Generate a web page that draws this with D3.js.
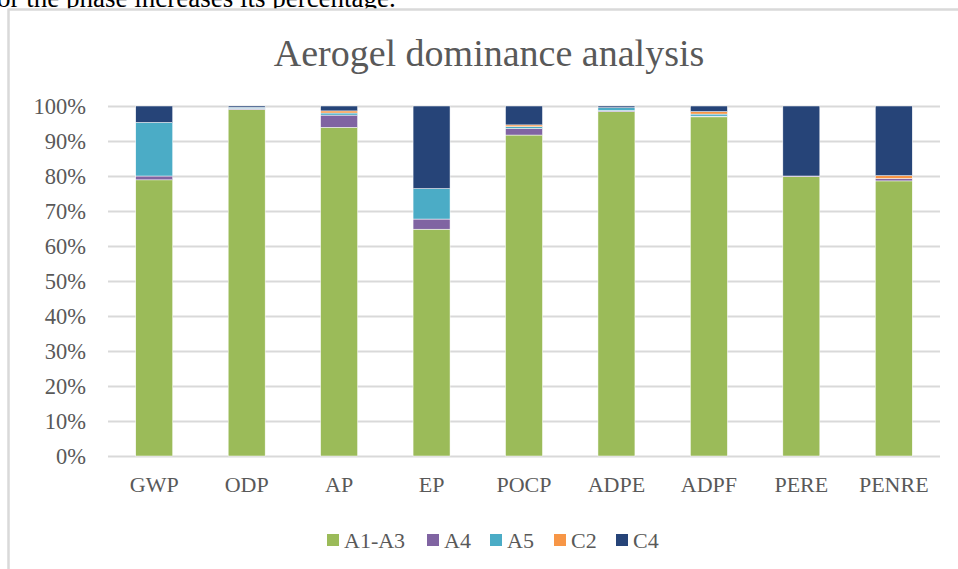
<!DOCTYPE html>
<html>
<head>
<meta charset="utf-8">
<script src="https://cdn.jsdelivr.net/npm/d3@7"></script>
<style>
	body { margin: 0; background: #fff; overflow: hidden; }
	svg { display: block; }
</style>
</head>
<body>
<svg width="958" height="569"></svg>
<script>
var svg = d3.select('svg');

var width = +svg.attr('width');
var height = +svg.attr('height');

// données (%)
const categories = ["GWP", "ODP", "AP", "EP", "POCP", "ADPE", "ADPF", "PERE", "PENRE"];
const seriesNames = ["A1-A3", "A4", "A5", "C2", "C4"];
const a1a3 = [78.9, 99.0, 93.9, 64.8, 91.7, 98.4, 96.9, 79.8, 78.6];
const a4 = [1.1, 0.3, 3.5, 2.9, 1.9, 0.3, 0.2, 0.2, 0.7];
const a5 = [15.3, 0.3, 0.6, 8.7, 0.5, 0.8, 0.6, 0.0, 0.0];
const c2 = [0.0, 0.0, 0.6, 0.0, 0.5, 0.0, 0.7, 0.0, 0.8];
const c4 = [4.7, 0.4, 1.4, 23.6, 5.4, 0.5, 1.6, 20.0, 19.9];
const yTicks = [0, 0.1, 0.2, 0.3, 0.4, 0.5, 0.6, 0.7, 0.8, 0.9, 1];

const colors = ["#9BBB59", "#8064A2", "#4BACC6", "#F79646", "#264478"];
const textColor = "#595959";
const gridColor = "#D9D9D9";
const font = "'Liberation Serif', 'DejaVu Serif', serif";

const rows = categories.map((c, i) => ({
	cat: c,
	"A1-A3": a1a3[i],
	"A4": a4[i],
	"A5": a5[i],
	"C2": c2[i],
	"C4": c4[i]
}));

// texte du document coupé au-dessus du graphique
svg.append("text")
	.attr("x", -3)
	.attr("y", 7)
	.attr("fill", "#000")
	.style("font-family", font)
	.style("font-size", "27px")
	.text("or the phase increases its percentage.");

// cadre du graphique (fond blanc + bords gauche et haut)
svg.append("rect")
	.attr("x", 9)
	.attr("y", 10)
	.attr("width", width - 9)
	.attr("height", height - 10)
	.attr("fill", "#fff");
svg.append("line")
	.attr("x1", 8.5).attr("x2", 8.5)
	.attr("y1", 8.5).attr("y2", height)
	.attr("stroke", gridColor)
	.attr("stroke-width", 2.5);
svg.append("line")
	.attr("x1", 8.5).attr("x2", width)
	.attr("y1", 9.5).attr("y2", 9.5)
	.attr("stroke", gridColor)
	.attr("stroke-width", 2.5);

// titre
svg.append("text")
	.attr("x", 489)
	.attr("y", 66)
	.attr("text-anchor", "middle")
	.attr("fill", textColor)
	.style("font-family", font)
	.style("font-size", "38px")
	.text("Aerogel dominance analysis");

const margin = {top: 106, left: 108, right: 18, bottom: 113};
const innerWidth = width - margin.left - margin.right;
const innerHeight = height - margin.top - margin.bottom;

const xScale = d3.scaleBand()
	.domain(categories)
	.range([0, innerWidth])
	.paddingInner(0.6)
	.paddingOuter(0.3);

const yScale = d3.scaleLinear()
	.domain([0, 1])
	.range([innerHeight, 0]);

const g = svg.append('g')
	.attr('transform', `translate(${margin.left}, ${margin.top})`);

// lignes de grille
g.append('g')
	.call(d3.axisLeft(yScale).tickValues(yTicks).tickSize(-innerWidth).tickFormat(d3.format(".0%")))
	.call(ax => ax.select('.domain').remove())
	.call(ax => ax.selectAll('line').attr('stroke', gridColor).attr('stroke-width', 2))
	.call(ax => ax.selectAll('text')
		.attr('x', -22)
		.attr('fill', textColor)
		.style('font-family', font)
		.style('font-size', '22.5px'));

// axe des x
g.append('g')
	.attr('transform', `translate(0,${innerHeight})`)
	.call(d3.axisBottom(xScale).tickSize(0))
	.call(ax => ax.select('.domain').remove())
	.call(ax => ax.selectAll('text')
		.attr('y', 20)
		.attr('fill', textColor)
		.style('font-family', font)
		.style('font-size', '22px'));

// barres empilées
const stacked = d3.stack()
	.keys(seriesNames)
	.offset(d3.stackOffsetExpand)(rows);

g.selectAll('g.serie').data(stacked)
	.enter().append('g')
	.attr('class', 'serie')
	.attr('fill', (d, i) => colors[i])
	.selectAll('rect').data(d => d)
	.enter().append('rect')
	.attr('x', d => xScale(d.data.cat))
	.attr('y', d => yScale(d[1]))
	.attr('height', d => yScale(d[0]) - yScale(d[1]))
	.attr('width', xScale.bandwidth())
	.attr('stroke', '#fff')
	.attr('stroke-width', 0.5);

// légende
const legendX = [327, 427, 490, 554, 616];
const legend = svg.append('g');
seriesNames.forEach((name, i) => {
	legend.append('rect')
		.attr('x', legendX[i])
		.attr('y', 534)
		.attr('width', 12)
		.attr('height', 12)
		.attr('fill', colors[i]);
	legend.append('text')
		.attr('x', legendX[i] + 17)
		.attr('y', 548)
		.attr('fill', textColor)
		.style('font-family', font)
		.style('font-size', '22px')
		.text(name);
});
</script>
</body>
</html>
